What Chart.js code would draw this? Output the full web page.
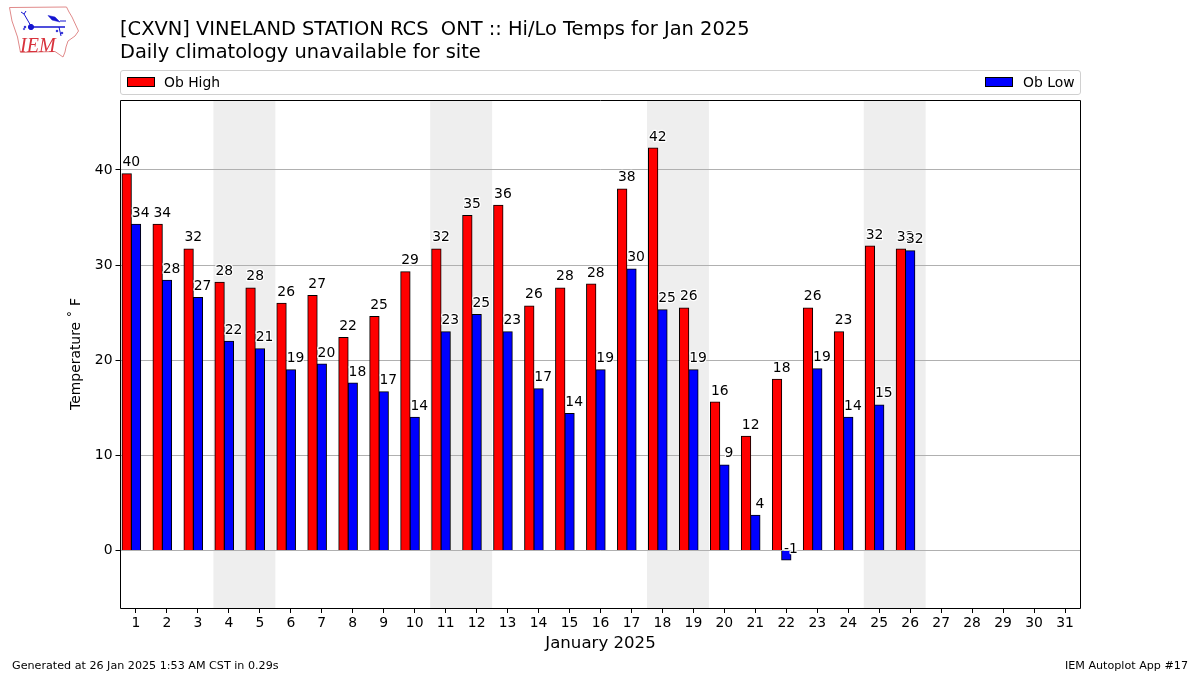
<!DOCTYPE html>
<html>
<head>
<meta charset="utf-8">
<title>Hi/Lo Temps</title>
<script src="https://cdn.jsdelivr.net/npm/chart.js@4"></script>
<style>
    body { margin: 0; background: #fff; font-family: 'DejaVu Sans', sans-serif; color: #000; }
    #wrap { position: relative; width: 1200px; height: 675px; overflow: hidden; }
    #wrap div, #wrap span { position: absolute; white-space: pre; }
    canvas { position: absolute; left: 0; top: 0; }
    .title { left: 120px; font-size: 19.43px; line-height: 22px; }
    .foot { top: 659px; font-size: 11.15px; line-height: 14px; }
    .swatch { top: 77px; width: 26px; height: 8px; border: 1px solid #000; }
    .legtext { top: 74px; font-size: 13.9px; line-height: 16px; }
    #legendBox { left: 120px; top: 70px; width: 959px; height: 23px; border: 1px solid #d0d0d0; border-radius: 3px; }
    #logo { left: 0; top: 0; position: absolute; }
</style>
</head>
<body>
<div id="wrap">
    <canvas id="tempChart" width="1200" height="675"></canvas>
    <svg id="logo" width="90" height="62" viewBox="0 0 90 62">
        <path d="M9.5 7.5 L66.5 7 L69 12 L72 17 L78.5 31 L75 36 L68 41 L66 47 L65 52 L63 57 L55 51.5 L20.5 52.5 L17.5 37 L12 21 Z" fill="none" stroke="#e08a8a" stroke-width="1"/>
        <g stroke="#1414d0" fill="#1414d0">
            <line x1="31" y1="27" x2="65" y2="27" stroke-width="1.5"/>
            <circle cx="31" cy="27" r="2.6"/>
            <line x1="31" y1="26" x2="24" y2="14" stroke-width="1"/>
            <line x1="24" y1="14" x2="21" y2="12" stroke-width="1"/>
            <line x1="24" y1="14" x2="26" y2="11" stroke-width="1"/>
            <path d="M48 15.5 L55 17 L60 22 L52 20 Z" stroke-width="0.5"/>
            <line x1="60" y1="21" x2="66" y2="21" stroke-width="1"/>
            <line x1="59" y1="27" x2="61" y2="36" stroke-width="1"/>
            <circle cx="57" cy="31" r="1" stroke-width="0.4"/>
            <circle cx="62" cy="33" r="1" stroke-width="0.4"/>
            <circle cx="25" cy="27" r="1" stroke-width="0.4"/>
            <circle cx="24" cy="29" r="0.8" stroke-width="0.4"/>
        </g>
        <text x="20" y="52" font-family="Liberation Serif" font-style="italic" font-size="20" fill="#d8323c">IEM</text>
    </svg>
    <div class="title" style="top:18px">[CXVN] VINELAND STATION RCS  ONT :: Hi/Lo Temps for Jan 2025</div>
    <div class="title" style="top:41px">Daily climatology unavailable for site</div>
    <div id="legendBox"></div>
    <span class="swatch" style="left:127px;background:#ff0000"></span>
    <span class="legtext" style="left:164px">Ob High</span>
    <span class="swatch" style="left:985px;background:#0000ff"></span>
    <span class="legtext" style="left:1023px">Ob Low</span>
    <div class="foot" style="left:12px">Generated at 26 Jan 2025 1:53 AM CST in 0.29s</div>
    <div class="foot" style="right:12px">IEM Autoplot App #17</div>
</div>
<script>
const days = ['1', '2', '3', '4', '5', '6', '7', '8', '9', '10', '11', '12', '13', '14', '15', '16',
    '17', '18', '19', '20', '21', '22', '23', '24', '25', '26', '27', '28', '29', '30', '31'];
const obHigh = [39.6, 34.3, 31.7, 28.2, 27.6, 26.0, 26.8, 22.4, 24.6, 29.3, 31.7, 35.2, 36.3, 25.7, 27.6, 28.0,
    38.0, 42.3, 25.5, 15.6, 12.0, 18.0, 25.5, 23.0, 32.0, 31.7];
const obLow = [34.3, 28.4, 26.6, 22.0, 21.2, 19.0, 19.6, 17.6, 16.7, 14.0, 23.0, 24.8, 23.0, 17.0, 14.4, 19.0,
    29.6, 25.3, 19.0, 9.0, 3.7, -1.0, 19.1, 14.0, 15.3, 31.5];
const weekends = [['4', '5'], ['11', '12'], ['18', '19'], ['25', '26']];

const fontFamily = "'DejaVu Sans', sans-serif";

// weekend shading goes in before the grid is drawn
const weekendBands = {
    id: 'weekendBands',
    beforeDraw(chart) {
        const { ctx, chartArea, scales } = chart;
        const half = (scales.x.getPixelForValue(1) - scales.x.getPixelForValue(0)) / 2;
        ctx.save();
        ctx.fillStyle = '#eeeeee';
        weekends.forEach(function (w) {
            const x0 = scales.x.getPixelForValue(days.indexOf(w[0])) - half;
            const x1 = scales.x.getPixelForValue(days.indexOf(w[1])) + half;
            ctx.fillRect(x0, chartArea.top, x1 - x0, chartArea.bottom - chartArea.top);
        });
        ctx.restore();
    }
};

// rounded value above each bar, with a white halo, then the plot frame
const barLabels = {
    id: 'barLabels',
    afterDraw(chart) {
        const { ctx, chartArea } = chart;
        ctx.save();
        ctx.font = '13.9px ' + fontFamily;
        ctx.textAlign = 'center';
        ctx.textBaseline = 'alphabetic';
        ctx.lineJoin = 'round';
        [0, 1].forEach(function (i) {
            const meta = chart.getDatasetMeta(i);
            meta.data.forEach(function (bar, j) {
                const text = String(Math.round(chart.data.datasets[i].data[j]));
                const x = bar.x + bar.width / 2;
                const y = bar.y - 7.5;
                ctx.strokeStyle = '#fff';
                ctx.lineWidth = 2.5;
                ctx.strokeText(text, x, y);
                ctx.fillStyle = '#000';
                ctx.fillText(text, x, y);
            });
        });
        ctx.strokeStyle = '#000';
        ctx.lineWidth = 1;
        ctx.strokeRect(chartArea.left, chartArea.top + 0.5, chartArea.right - chartArea.left, chartArea.bottom - chartArea.top);
        ctx.restore();
    }
};

new Chart(document.getElementById('tempChart'), {
    type: 'bar',
    data: {
        labels: days,
        datasets: [
            { label: 'Ob High', data: obHigh, backgroundColor: '#ff0000', borderColor: '#000', borderWidth: 1, inflateAmount: 0.5 },
            { label: 'Ob Low', data: obLow, backgroundColor: '#0000ff', borderColor: '#000', borderWidth: 1, inflateAmount: 0.5 },
            // empty third slot so the low bar sits centred on the tick
            { label: '', data: [] }
        ]
    },
    options: {
        responsive: false,
        animation: false,
        categoryPercentage: 0.9,
        barPercentage: 1,
        layout: { padding: { left: 68.5, right: 119.5, top: 100, bottom: 21 } },
        plugins: { legend: { display: false }, title: { display: false }, tooltip: { enabled: false } },
        scales: {
            x: {
                grid: { drawOnChartArea: false, offset: false, tickColor: '#000', tickLength: 5 },
                border: { display: false },
                ticks: { color: '#000', font: { family: fontFamily, size: 13.9 }, maxRotation: 0, autoSkip: false, padding: 2 },
                title: { display: true, text: 'January 2025', color: '#000', font: { family: fontFamily, size: 16.6 }, padding: { top: 2, bottom: 0 } },
                afterFit(scale) { scale.height = 46; }
            },
            y: {
                min: -6.04,
                max: 47.35,
                grid: { color: '#b0b0b0', lineWidth: 1, tickColor: '#000', tickLength: 5 },
                border: { display: false },
                ticks: { stepSize: 10, includeBounds: false, color: '#000', font: { family: fontFamily, size: 13.9 }, padding: 3 },
                title: { display: true, text: 'Temperature ˚ F', color: '#000', font: { family: fontFamily, size: 13.9 }, padding: { top: 0, bottom: 0 } },
                afterFit(scale) { scale.width = 52; }
            }
        }
    },
    plugins: [weekendBands, barLabels]
});
</script>
</body>
</html>
